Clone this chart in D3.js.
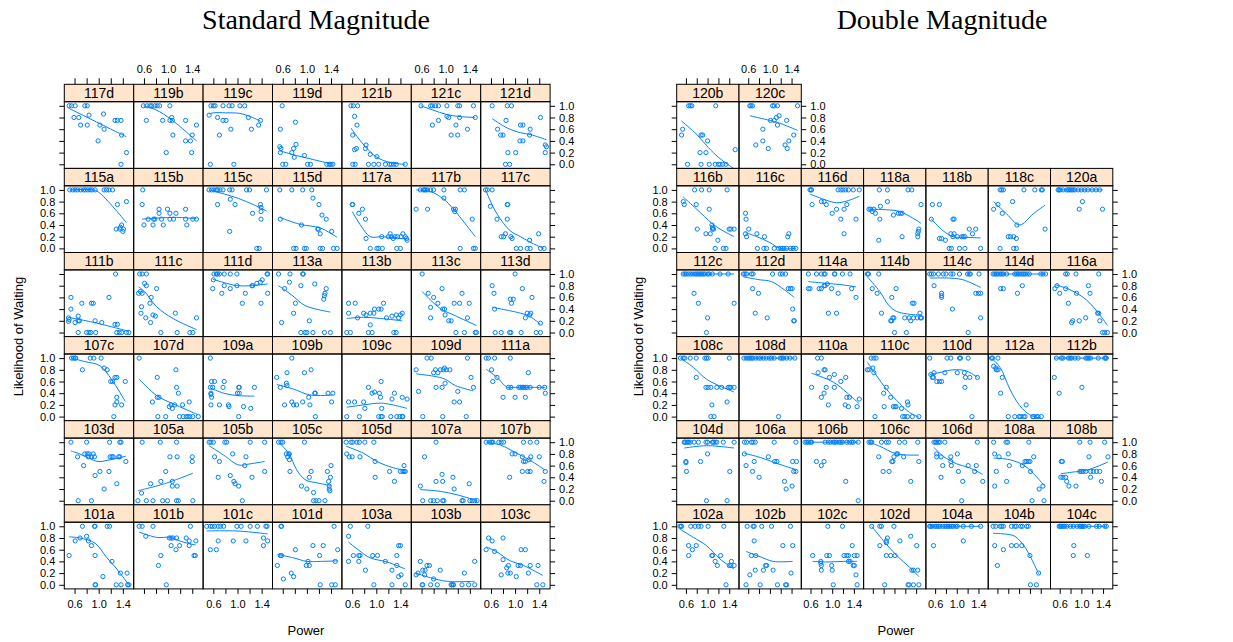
<!DOCTYPE html>
<html>
<head>
<meta charset="utf-8">
<script src="https://cdn.jsdelivr.net/npm/d3@7"></script>
<style>
  body { margin: 0; background: #fff; }
  svg { display: block; }
</style>
</head>
<body>
<script>
// ---------------- axis settings ----------------
const yTickValues = [0, 0.2, 0.4, 0.6, 0.8, 1.0];
const yTickLabels = ["0.0", "0.2", "0.4", "0.6", "0.8", "1.0"];
const xTickValues = [0.6, 0.8, 1.0, 1.2, 1.4];
const xTickLabels = ["0.6", "", "1.0", "", "1.4"];
const xDomain = [0.43, 1.58];
const yDomain = [-0.07, 1.07];

const titles = ["Standard Magnitude", "Double Magnitude"];
const xTitle = "Power";
const yTitle = "Likelihood of Waiting";

// ---------------- panel layouts (top row first) ----------------
const standardRows = [
  ["117d", "119b", "119c", "119d", "121b", "121c", "121d"],
  ["115a", "115b", "115c", "115d", "117a", "117b", "117c"],
  ["111b", "111c", "111d", "113a", "113b", "113c", "113d"],
  ["107c", "107d", "109a", "109b", "109c", "109d", "111a"],
  ["103d", "105a", "105b", "105c", "105d", "107a", "107b"],
  ["101a", "101b", "101c", "101d", "103a", "103b", "103c"]
];
const doubleRows = [
  ["120b", "120c"],
  ["116b", "116c", "116d", "118a", "118b", "118c", "120a"],
  ["112c", "112d", "114a", "114b", "114c", "114d", "116a"],
  ["108c", "108d", "110a", "110c", "110d", "112a", "112b"],
  ["104d", "106a", "106b", "106c", "106d", "108a", "108b"],
  ["102a", "102b", "102c", "102d", "104a", "104b", "104c"]
];

// ---------------- observations [power, likelihood] ----------------
// Standard magnitude
const p117d = [[0.51,1],[0.55,1],[0.61,1],[0.77,1],[0.81,1],[0.59,0.8],[0.67,0.8],[0.70,0.67],[0.81,0.67],[0.84,0.84],[1.02,0.67],[1.09,0.6],[1.08,0.86],[0.99,0.4],[1.27,0.75],[1.31,0.75],[1.37,0.75],[1.38,0.5],[1.46,0.2],[1.37,0]];
const p119b = [[0.59,1],[0.65,1],[0.70,1],[0.73,1],[0.78,1],[0.82,1],[0.86,1],[1.03,1],[0.64,0.75],[0.91,0.75],[1.03,0.75],[1.07,0.75],[1.06,0.8],[1.08,0.5],[1.29,0.75],[1.47,0.67],[1.40,0.5],[1.29,0.4],[1.37,0.4],[0.97,0.2],[1.39,0.2]];
const p119c = [[0.56,1],[0.60,1],[0.63,1],[0.76,1],[0.86,1],[0.91,1],[1.04,1],[1.12,1],[0.53,0.84],[0.67,0.8],[0.76,0.75],[0.81,0.75],[0.70,0.5],[0.89,0.6],[1.18,0.8],[1.38,0.75],[1.23,0.6],[1.35,0.67],[0.55,0],[0.94,0]];
const p119d = [[0.59,1],[0.81,0.72],[0.56,0.6],[0.55,0.3],[0.57,0.27],[0.56,0.2],[0.82,0.34],[0.78,0.27],[0.75,0.2],[0.79,0.12],[0.96,0.15],[0.60,0],[0.65,0],[1.01,0],[1.06,0],[1.33,0],[1.37,0],[1.40,0],[1.43,0]];
const p121b = [[0.58,1],[0.62,1],[0.69,1],[0.64,0.82],[0.68,0.67],[0.61,0.5],[0.67,0.27],[0.64,0.25],[0.83,0.33],[0.90,0.17],[1.01,0.13],[0.61,0],[0.65,0],[0.87,0],[0.96,0],[1.04,0],[1.15,0],[1.22,0],[1.25,0],[1.29,0],[1.33,0],[1.48,0],[0.82,0.27]];
const p121c = [[0.59,1],[0.75,1],[0.78,1],[0.83,1],[0.88,1],[1.02,1],[1.20,1],[1.23,1],[1.46,1],[1.02,0.82],[1.05,0.8],[0.88,0.75],[0.78,0.67],[1.17,0.67],[1.36,0.6],[1.23,0.8],[1.49,0.8],[1.09,0.5],[1.20,0.5]];
const p121d = [[0.62,1],[0.87,1],[0.94,1],[0.85,0.75],[1.42,0.8],[0.71,0.6],[0.76,0.5],[0.80,0.5],[1.09,0.67],[1.13,0.67],[1.25,0.6],[1.24,0.5],[1.08,0.4],[1.13,0.4],[0.88,0.2],[1.01,0.2],[0.84,0],[0.91,0],[1.50,0.33],[1.52,0.3],[1.50,0.2]];
const p115a = [[0.52,1],[0.57,1],[0.61,1],[0.65,1],[0.70,1],[0.75,1],[0.78,1],[0.82,1],[0.86,1],[0.89,1],[0.94,1],[1.09,1],[1.13,1],[1.17,1],[1.23,1],[1.31,0.75],[1.46,0.8],[1.29,0.33],[1.35,0.33],[1.38,0.4],[1.36,0.36],[1.41,0.33],[1.40,0.29]];
const p115b = [[0.58,1],[0.57,0.75],[0.60,0.4],[0.67,0.5],[0.76,0.5],[0.78,0.5],[0.75,0.4],[0.85,0.6],[0.85,0.67],[0.89,0.5],[0.92,0.4],[0.99,0.67],[1.03,0.6],[1.03,0.5],[1.09,0.5],[1.13,0.6],[1.29,0.67],[1.29,0.5],[1.31,0.4],[1.41,0.5],[1.47,0.5]];
const p115c = [[0.53,1],[0.57,1],[0.61,1],[0.65,1],[0.67,1],[0.71,1],[0.76,1],[0.87,1],[0.91,1],[1.15,1],[1.20,1],[1.48,1],[0.67,0.75],[0.88,0.84],[0.96,0.75],[0.87,0.29],[1.25,0.6],[1.38,0.75],[1.39,0.7],[1.39,0.63],[1.39,0.5],[1.32,0],[1.36,0]];
const p115d = [[0.55,1],[0.75,1],[0.93,1],[1.08,1],[1.10,0.86],[1.20,0.75],[1.25,0.57],[1.32,0.5],[0.56,0.5],[0.91,0.4],[1.18,0.33],[1.19,0.33],[1.22,0.25],[1.41,0.29],[0.78,0],[0.82,0],[0.96,0],[0.99,0],[1.22,0],[1.26,0],[1.44,0],[1.50,0]];
const p117a = [[0.60,0.75],[0.61,0.75],[0.71,0.6],[0.77,0.67],[0.82,0.5],[0.83,0.17],[0.90,0],[1.01,0],[1.04,0],[1.10,0],[1.09,0.2],[1.20,0.2],[1.23,0.25],[1.25,0.2],[1.28,0.17],[1.31,0.2],[1.35,0.2],[1.41,0.2],[1.44,0.25],[1.48,0.2],[1.50,0.17],[1.51,0.14],[1.34,0],[1.40,0]];
const p117b = [[0.58,1],[0.63,1],[0.65,1],[0.67,1],[0.70,1],[0.75,1],[0.80,1],[0.97,1],[1.24,1],[1.31,1],[0.51,0.67],[0.70,0.67],[0.97,0.86],[1.13,0.67],[1.16,0.67],[1.15,0.63],[1.24,0],[1.44,0.5],[1.46,0],[1.49,0]];
const p117c = [[0.51,1],[0.54,1],[0.62,1],[0.59,0.72],[0.70,0.5],[0.77,0.2],[0.81,0.2],[0.84,0.25],[0.87,0.75],[0.88,0.75],[0.87,0.5],[0.93,0.2],[0.95,0.17],[1.02,0],[1.09,0],[1.20,0],[1.25,0],[1.24,0.14],[1.39,0.25],[1.42,0],[1.48,0]];
const p111b = [[0.50,0.25],[0.50,0.19],[0.54,0.6],[0.54,0.4],[0.61,0.17],[0.66,0.28],[0.66,0.2],[0.68,0.2],[0.72,0.5],[0.66,0],[0.80,0],[0.84,0],[0.87,0],[0.95,0],[0.88,0.5],[0.91,0.5],[0.94,0.2],[1.05,0.17],[1.17,0.6],[1.28,1],[1.27,0.14],[1.31,0.14],[1.30,0],[1.34,0],[1.38,0],[1.46,0],[1.50,0],[0.51,0.22]];
const p111c = [[0.53,1],[0.57,1],[0.64,1],[0.61,0.84],[0.64,0.8],[0.51,0.67],[0.54,0.7],[0.57,0.67],[0.81,0.75],[0.72,0.6],[0.70,0.5],[0.56,0.44],[0.55,0.33],[0.75,0.3],[0.79,0.28],[0.71,0.17],[0.63,0.25],[0.88,0],[1.12,0.33],[1.15,0],[1.36,0],[1.41,0],[1.47,0.25]];
const p111d = [[0.61,1],[0.65,1],[0.67,1],[0.70,1],[0.78,1],[0.88,1],[0.99,1],[1.49,1],[1.50,1],[0.60,0.9],[0.59,0.75],[0.78,0.8],[0.74,0.67],[0.88,0.75],[0.99,0.8],[1.13,0.67],[1.08,0.5],[1.24,0.8],[1.25,0.8],[1.32,0.84],[1.38,0.86],[1.39,0.5],[1.50,0.67],[1.41,0.9]];
const p113a = [[0.53,1],[0.72,1],[0.93,1],[0.94,1],[0.63,0.75],[0.71,0.86],[0.90,0.8],[1.13,0.83],[1.32,0.75],[1.30,0.67],[1.29,0.63],[1.28,0.57],[0.81,0.5],[0.78,0.33],[0.58,0.17],[1.04,0.2],[0.90,0],[0.97,0],[1.00,0],[1.10,0],[1.29,0],[1.39,0]];
const p113b = [[0.54,0.5],[0.65,0.5],[0.54,0.33],[0.69,0.25],[0.79,0.33],[0.83,0.3],[0.90,0.33],[0.97,0.4],[0.96,0.33],[1.04,0.4],[1.12,0.5],[1.08,0.4],[0.90,0.13],[1.17,0.25],[1.26,0.28],[1.33,0.3],[1.37,0.25],[1.40,0.3],[1.43,0.33],[0.51,0],[0.57,0],[0.87,0],[0.93,0],[1.29,0],[1.33,0]];
const p113c = [[0.61,1],[0.71,0.67],[0.80,0.6],[0.94,0.75],[0.87,0.5],[0.75,0.43],[0.95,0.4],[0.98,0.4],[0.99,0.3],[1.05,0.2],[1.09,0.2],[1.14,0.5],[1.23,0.5],[1.27,0.67],[1.39,0.5],[1.36,0.25],[0.75,0.25],[1.17,0],[1.31,0],[1.49,0],[1.51,0]];
const p113d = [[1.00,1],[0.62,0.8],[0.65,0.67],[0.92,0.57],[0.97,0.57],[0.94,0.5],[0.66,0.4],[1.12,0.75],[1.28,0.6],[1.20,0.33],[1.26,0.33],[1.17,0.25],[1.24,0.3],[1.42,0.16],[0.67,0],[0.77,0],[0.91,0],[0.93,0],[1.10,0],[1.35,0],[1.42,0]];
const p107c = [[0.55,1],[0.58,1],[0.61,1],[0.62,1],[0.86,1],[0.92,1],[1.04,1],[0.73,0.8],[1.09,0.83],[1.14,0.8],[1.20,0.6],[1.23,0.6],[1.27,0.67],[1.30,0.67],[1.30,0.33],[1.27,0.2],[1.30,0.25],[1.25,0],[1.38,0.2],[1.44,0.6]];
const p107d = [[0.52,1],[0.82,0.67],[0.82,0.33],[0.85,0.33],[0.74,0.25],[1.13,0.8],[1.14,0.5],[1.17,0.4],[1.02,0.17],[1.05,0.2],[1.07,0.14],[1.11,0.2],[1.24,0.2],[1.35,0.25],[0.83,0],[0.96,0],[1.19,0],[1.25,0],[1.30,0],[1.33,0],[1.36,0],[1.41,0],[1.50,0]];
const p109a = [[0.55,1],[0.57,0.6],[0.55,0.5],[0.59,0.5],[0.56,0.4],[0.56,0.38],[0.57,0.33],[0.62,0.6],[0.78,0.6],[0.76,0.5],[0.56,0.2],[0.70,0.2],[0.85,0.2],[0.86,0.17],[1.02,0.5],[1.03,0.5],[1.00,0.4],[1.03,0.4],[1.10,0.17],[1.22,0.14],[1.28,0.5],[1.02,0]];
const p109b = [[0.75,1],[0.50,0.67],[0.56,0.5],[0.66,0.57],[0.67,0.53],[0.67,0.75],[0.96,0.75],[1.07,0.8],[1.03,0.33],[1.13,0.4],[1.14,0.4],[0.63,0.2],[0.75,0.25],[0.78,0.2],[0.83,0.2],[0.93,0.25],[1.05,0.2],[1.14,0],[1.35,0.4],[1.43,0.4],[1.41,0.25]];
const p109c = [[0.54,0.25],[0.64,0.25],[0.51,0],[0.72,0],[0.79,0.25],[0.81,0.14],[0.87,0.5],[0.93,0.4],[0.97,0.42],[1.05,0.4],[1.08,0.6],[1.07,0.33],[1.09,0.14],[1.04,0],[1.08,0],[1.10,0],[1.24,0],[1.26,0.3],[1.30,0.4],[1.34,0],[1.39,0],[1.43,0],[1.44,0],[1.43,0.33],[1.51,0.3]];
const p109d = [[0.51,0.8],[0.55,0.43],[0.69,1],[0.76,1],[0.62,0],[0.80,0.75],[0.83,0.8],[0.87,0.75],[0.84,0.5],[0.95,0],[0.91,0.8],[0.96,0.8],[0.98,0.83],[1.01,0.8],[0.99,0.57],[0.94,0.5],[1.07,0.8],[1.14,0.25],[1.23,0.25],[1.20,0.43],[1.34,0],[1.36,1],[1.42,0.67],[1.46,0.5]];
const p111a = [[0.52,1],[0.56,1],[0.66,1],[0.92,1],[0.61,0.8],[0.63,0.6],[0.70,0.67],[0.80,0.33],[0.89,0.5],[0.93,0.5],[1.00,0.33],[1.06,0.5],[1.09,0.5],[1.12,0.5],[1.14,0.5],[1.17,0.5],[1.20,0.5],[1.25,0.5],[1.22,0.75],[1.17,0.33],[1.40,0.5],[1.49,0.5],[1.50,0.4]];
const p103d = [[0.54,1],[0.80,1],[1.18,1],[1.35,1],[1.37,1],[0.65,0.75],[0.75,0.6],[0.77,0.8],[0.81,0.8],[0.83,0.75],[0.84,0.8],[0.88,0.75],[0.91,0.8],[0.93,0.75],[0.94,0.43],[1.02,0.5],[1.17,0.5],[1.19,0.75],[1.22,0.75],[1.24,0.75],[1.33,0.75],[1.35,0.75],[1.45,0.67],[1.09,0.2],[1.30,0.29],[0.66,0],[0.88,0]];
const p105a = [[0.57,1],[0.87,1],[1.14,1],[0.56,0.13],[0.71,0.29],[0.88,0.33],[0.96,0.5],[1.03,0.75],[1.15,0.75],[1.07,0.33],[1.07,0.25],[1.15,0.25],[1.40,0.75],[1.40,0.67],[0.50,0],[0.64,0],[0.75,0],[0.91,0],[0.99,0],[1.14,0],[1.17,0],[1.41,0]];
const p105b = [[0.53,1],[0.56,1],[0.60,1],[0.79,1],[0.82,1],[1.21,1],[1.45,1],[0.62,0.75],[0.70,0.67],[0.92,0.8],[0.68,0.4],[0.88,0.43],[0.94,0.33],[0.96,0.29],[1.02,0.25],[1.14,0.75],[1.12,0.6],[1.24,0.4],[1.45,0.5],[1.08,0]];
const p105c = [[0.53,1],[0.57,1],[0.60,1],[0.96,1],[0.66,0.8],[0.70,0.8],[0.71,0.8],[0.68,0.75],[0.71,0.7],[0.72,0.5],[0.91,0.25],[1.00,0.2],[1.07,0.5],[1.04,0.4],[1.11,0.14],[1.11,0],[1.15,0],[1.20,0],[1.30,0],[1.34,0.5],[1.36,0.33],[1.39,0.4],[1.37,0.25],[1.37,0.2],[1.40,0.6],[1.38,0.17]];
const p105d = [[0.50,1],[0.58,1],[0.61,1],[0.68,1],[0.72,1],[0.81,1],[0.96,1],[0.51,0.8],[0.55,0.75],[0.60,0.75],[0.73,0.75],[0.98,0.67],[0.98,0.4],[1.22,0.5],[1.30,0.33],[1.40,0.5],[1.44,0.5],[1.46,0.5],[1.48,0.5],[1.46,0.6]];
const p107a = [[0.84,1],[0.65,0.75],[0.94,0.45],[0.84,0.33],[0.95,0.33],[1.12,0.4],[1.14,0.2],[1.39,0.29],[0.58,0.25],[0.62,0],[0.75,0],[0.80,0],[0.86,0],[0.95,0],[0.97,0],[1.27,0],[1.29,0],[1.40,0],[1.44,0],[1.48,0],[1.52,0]];
const p107b = [[0.52,1],[0.58,1],[0.61,1],[0.63,1],[0.73,1],[0.77,1],[0.81,1],[1.14,1],[1.25,1],[1.36,1],[0.95,0.8],[1.00,0.8],[1.12,0.75],[1.26,0.75],[1.40,0.75],[1.14,0.67],[1.17,0.67],[1.23,0.7],[1.12,0.5],[1.21,0.5],[1.25,0.5],[0.91,0.4],[1.50,0.5],[1.48,0.33]];
const p101a = [[0.51,0.5],[0.61,0.75],[0.69,0.8],[0.73,1],[0.80,0.83],[0.83,0.75],[0.88,0.67],[0.93,1],[0.94,1],[0.94,0.5],[0.94,0],[0.95,0],[1.07,0.14],[1.14,1],[1.18,1],[1.22,0.4],[1.29,0],[1.37,0],[1.47,0.2],[1.36,0.2],[1.48,0],[1.50,0]];
const p101b = [[0.52,1],[0.57,1],[0.75,1],[1.37,1],[0.63,0.83],[0.88,0.5],[0.84,0.33],[0.97,0],[1.02,0.8],[1.05,0.8],[1.08,0.8],[1.14,0.8],[1.05,0.67],[1.13,0.6],[1.19,0.67],[1.30,0.8],[1.35,0.75],[1.35,0.67],[1.43,0.5],[1.45,0.5],[1.46,0.75]];
const p101c = [[0.49,1],[0.55,1],[0.58,1],[0.62,1],[0.68,1],[0.72,1],[0.77,1],[0.99,1],[1.06,1],[1.21,1],[1.33,1],[1.47,1],[1.49,1],[0.55,0.6],[0.65,0.6],[0.68,0.75],[0.93,0.75],[1.14,0.75],[1.43,0.8],[1.43,0.67],[1.50,0.75]];
const p101d = [[0.57,1],[0.58,1],[0.51,0.33],[0.56,0.5],[0.58,0.5],[0.61,0.1],[0.74,0.2],[0.78,0.14],[0.81,0.6],[0.99,0.33],[1.04,0.33],[1.02,0.4],[1.10,0.67],[1.21,0.5],[1.22,0],[1.27,0.67],[1.45,1],[1.47,0.4],[1.41,0],[1.47,0],[1.51,0.6]];
const p103a = [[0.54,0.83],[0.57,1],[0.54,0.4],[0.62,0.5],[0.71,0.5],[0.73,0.5],[0.71,0.4],[0.82,0.25],[0.86,1],[0.96,0],[0.94,0.5],[1.02,0.5],[1.15,0.4],[1.26,0.25],[1.26,0],[1.34,0.5],[1.34,0.33],[1.37,0.14],[1.37,0.67],[1.40,0.67],[1.41,0.17],[1.48,0]];
const p103b = [[0.51,0.17],[0.54,0.2],[0.58,0.4],[0.61,0],[0.62,0],[0.62,0.25],[0.66,0.25],[0.65,0.17],[0.69,0.33],[0.73,0.33],[0.75,0],[0.80,0.1],[0.86,0],[0.91,0.25],[1.09,0],[1.10,0],[1.12,0],[1.13,0],[1.27,0],[1.31,0.2],[1.38,0],[1.48,0],[1.48,0.4]];
const p103c = [[0.52,0.6],[0.56,0.8],[0.62,0.75],[0.66,0.57],[0.80,0.8],[0.80,0.43],[0.77,0.17],[0.86,0.29],[0.89,0.33],[0.88,0.2],[0.92,0.2],[1.02,0.14],[1.05,0.33],[1.09,0.33],[1.10,0.6],[1.17,0.6],[1.22,0.2],[1.25,0.33],[1.38,0.33],[1.36,0],[1.46,0]];

// Double magnitude
const p120b = [[0.65,1],[0.68,1],[0.71,1],[1.15,1],[0.54,0.6],[0.52,0.5],[0.88,0.5],[0.91,0.5],[1.00,0.4],[0.86,0.2],[0.97,0.2],[0.63,0],[0.88,0],[1.03,0],[1.14,0],[1.20,0],[1.23,0],[1.28,0],[1.34,0],[1.51,0.25]];
const p120c = [[0.63,1],[0.65,1],[0.68,1],[1.05,1],[1.08,1],[1.14,1],[1.51,1],[1.01,0.75],[1.08,0.75],[1.12,0.8],[1.17,0.83],[1.14,0.67],[1.31,0.75],[0.87,0.6],[0.87,0.4],[0.74,0.33],[0.97,0.27],[1.28,0.33],[1.32,0.27],[1.35,0.4],[1.44,0.5]];
const p116b = [[0.55,0.8],[0.57,0.75],[0.76,1],[0.89,1],[1.03,1],[0.79,0.75],[0.81,0.33],[0.97,0.25],[1.05,0.25],[1.03,0.67],[1.08,0.4],[1.09,0.36],[1.11,0.33],[1.09,0.33],[1.14,0],[1.19,0.14],[1.29,0],[1.34,0],[1.36,1],[1.40,0.33],[1.43,0.33],[1.49,0.33]];
const p116c = [[0.55,0.6],[0.56,0.5],[0.55,0.25],[0.57,0.2],[0.61,0.33],[0.76,0.25],[0.77,0],[0.90,0.2],[0.89,0],[0.94,0],[1.08,0],[1.16,0],[1.20,0],[1.23,0],[1.26,0],[1.31,0],[1.33,0.2],[1.35,0.25],[1.38,0],[1.43,0],[1.48,0]];
const p116d = [[0.59,1],[0.61,1],[0.62,1],[1.11,1],[1.16,1],[1.20,1],[1.25,1],[1.30,1],[1.39,1],[1.50,1],[0.63,0.75],[0.80,0.8],[0.85,0.8],[0.89,0.75],[1.00,0.6],[1.08,0.67],[1.16,0.5],[1.22,0.25],[1.22,0.67],[1.27,0.75],[1.44,0.5]];
const p118a = [[0.53,0.67],[0.56,0.67],[0.59,0.63],[0.62,0.67],[0.65,0.6],[0.72,1],[0.87,1],[0.73,0.5],[0.74,0.72],[0.87,0.8],[0.71,0.14],[0.98,0.57],[1.07,0.6],[1.11,0.6],[1.14,0.6],[1.14,0.2],[1.25,1],[1.32,1],[1.44,0.29],[1.43,0.25],[1.43,0.2],[1.45,0.33],[1.49,0.75]];
const p118b = [[0.55,0.75],[0.68,0.75],[0.53,0.5],[0.68,0.17],[0.72,0.17],[0.79,0.14],[0.86,0],[0.90,0],[0.89,0.25],[0.93,0.5],[0.95,0.5],[0.93,0.2],[0.95,0.25],[1.05,0],[1.15,0],[1.01,0.2],[1.09,0.2],[1.12,0.2],[1.15,0.2],[1.23,0.33],[1.29,0.25],[1.35,0.33],[1.44,0]];
const p118c = [[0.53,0.67],[0.61,0.75],[0.65,1],[0.68,1],[0.71,1],[0.69,0.6],[0.65,0],[0.80,0.2],[0.84,0.2],[0.90,0.2],[0.88,0.8],[0.90,0],[0.95,0],[0.95,0.17],[0.96,0.4],[1.09,1],[1.29,1],[1.41,1],[1.43,1],[1.48,0.33]];
const p120a = [[0.57,1],[0.59,1],[0.61,1],[0.66,1],[0.73,1],[0.76,1],[0.79,1],[0.82,1],[0.85,1],[0.88,1],[0.94,1],[1.00,1],[1.06,1],[1.12,1],[1.20,1],[1.27,1],[1.34,1],[1.02,0.8],[0.96,0.67],[1.39,0.67]];
const p112c = [[0.55,1],[0.58,1],[0.61,1],[0.65,1],[0.69,1],[0.73,1],[0.77,1],[0.80,1],[0.83,1],[0.86,1],[0.89,1],[0.92,1],[0.95,1],[1.00,1],[1.03,1],[1.09,1],[1.23,1],[1.38,1],[0.75,0.67],[0.83,0.5],[1.00,0.25],[0.98,0],[1.49,0.5]];
const p112d = [[0.51,1],[0.54,1],[0.57,1],[0.66,1],[0.69,1],[1.05,1],[1.19,1],[1.23,1],[1.29,1],[0.68,0.75],[0.79,0.67],[0.73,0.33],[0.95,0.25],[1.34,0.75],[1.38,0.75],[1.41,0.75],[1.42,0.4],[1.44,0.2],[1.45,0.2]];
const p114a = [[0.56,1],[0.71,1],[0.80,1],[0.85,1],[0.87,1],[1.04,1],[1.05,1],[1.19,1],[1.33,1],[0.56,0.75],[0.59,0.75],[0.76,0.75],[0.80,0.75],[0.85,0.8],[0.87,0.8],[0.91,0.83],[0.93,0.33],[0.99,0.75],[1.08,0.33],[1.11,0.67],[1.36,0.75],[1.44,0.6]];
const p114b = [[0.50,1],[0.52,1],[0.71,1],[0.59,0.75],[0.68,0.67],[0.76,0.33],[0.95,0.6],[1.03,0.75],[0.93,0.2],[0.95,0.2],[0.97,0.25],[0.99,0.25],[1.00,0],[1.22,0],[1.19,0.25],[1.27,0.25],[1.30,0.2],[1.35,0.25],[1.33,0.5],[1.36,0.5],[1.42,0.25],[1.48,0.25],[1.47,0.33],[1.50,0.25]];
const p114c = [[0.50,1],[0.53,1],[0.57,1],[0.66,1],[0.75,1],[0.80,1],[0.89,1],[0.93,1],[1.05,1],[1.20,1],[1.23,1],[1.25,1],[1.41,1],[0.58,0.8],[0.72,0.67],[0.72,0.63],[0.72,0.6],[0.92,0.4],[1.21,0],[1.35,0.67],[1.40,0.67],[1.44,0.67],[1.44,0.25]];
const p114d = [[0.52,1],[0.55,1],[0.58,1],[0.61,1],[0.65,1],[0.68,1],[0.71,1],[0.77,1],[0.92,1],[0.95,1],[0.98,1],[1.01,1],[1.05,1],[1.08,1],[1.11,1],[1.15,1],[1.19,1],[1.40,1],[1.44,1],[1.49,1],[0.66,0.75],[0.71,0.75],[1.06,0.8],[0.97,0.67]];
const p116a = [[0.51,0.75],[0.55,0.8],[0.60,0.67],[0.71,1],[0.74,1],[0.90,1],[0.71,0.75],[0.76,0.5],[0.82,0.17],[0.84,0.2],[0.91,0.67],[0.96,0.2],[1.08,0.25],[1.13,0.8],[1.16,0.67],[1.32,1],[1.30,0.33],[1.32,0.33],[1.34,0.2],[1.39,0],[1.43,0],[1.48,0]];
const p108c = [[0.50,1],[0.55,1],[0.58,1],[0.68,1],[0.79,1],[0.95,1],[0.98,1],[1.01,1],[1.40,1],[0.79,0.67],[0.97,0.5],[1.01,0.5],[1.06,0.5],[1.08,0.2],[1.06,0],[1.12,0],[1.17,0.5],[1.26,0.5],[1.36,0.25],[1.38,0.5],[1.41,0.5],[1.43,0.5],[1.49,0.5]];
const p108d = [[0.52,1],[0.56,1],[0.60,1],[0.63,1],[0.66,1],[0.69,1],[0.74,1],[0.79,1],[0.83,1],[0.88,1],[0.93,1],[0.99,1],[1.03,1],[1.08,1],[1.19,1],[1.22,1],[1.25,1],[1.31,1],[1.37,1],[1.46,1],[1.16,0]];
const p110a = [[0.62,0.5],[0.73,1],[0.80,1],[0.74,0.75],[0.85,0.8],[0.87,0.8],[0.80,0.33],[0.85,0.4],[0.89,0.5],[0.93,0.2],[0.95,0.67],[1.04,0.72],[1.04,0.5],[1.16,0.6],[1.25,0.67],[1.24,0.2],[1.27,0.33],[1.32,0.33],[1.30,0.17],[1.46,0.17],[1.50,0.3]];
const p110c = [[0.50,0.8],[0.53,0.8],[0.57,1],[0.62,1],[0.66,1],[0.60,0.83],[0.62,0.75],[0.64,0],[0.80,0.4],[0.85,0.5],[0.81,0.17],[0.93,0.33],[0.98,0.17],[1.01,0.17],[1.03,0.17],[1.13,0.14],[1.15,0],[1.19,0],[1.24,0.25],[1.25,0.2],[1.24,0],[1.33,0],[1.45,0]];
const p110d = [[0.50,1],[0.52,0.72],[0.55,0.67],[0.57,0.67],[0.58,0.75],[0.63,0.6],[0.68,0.6],[0.72,0.6],[0.82,1],[0.89,1],[1.05,1],[1.07,1],[1.21,1],[0.78,0.75],[1.01,0.75],[1.14,0.75],[1.16,0.67],[1.15,0.5],[1.24,0.67],[1.28,0],[1.38,0.67]];
const p112a = [[0.49,1],[0.51,1],[0.53,0.86],[0.57,0.83],[0.61,1],[0.58,0.8],[0.61,0.8],[0.69,0.67],[0.66,0.4],[0.80,0],[0.92,0],[1.00,0],[1.03,0],[1.08,0],[1.11,0],[1.13,0.2],[1.25,0],[1.27,0],[1.32,0],[1.35,0],[1.41,0]];
const p112b = [[0.54,1],[0.63,1],[0.66,1],[0.76,1],[0.79,1],[0.82,1],[0.88,1],[0.94,1],[1.08,1],[1.11,1],[1.14,1],[1.17,1],[1.31,1],[1.43,1],[1.45,1],[1.46,1],[0.50,0.67],[0.59,0.4],[1.01,0.5]];
const p104d = [[0.57,1],[0.58,1],[0.60,1],[0.63,1],[0.65,1],[0.68,1],[0.75,1],[0.83,1],[0.97,1],[1.00,1],[1.09,1],[1.11,1],[1.14,1],[1.17,1],[1.29,1],[1.49,1],[0.60,0.67],[0.60,0.65],[0.61,0.5],[0.87,0.67],[1.00,0.8],[0.98,0],[1.36,0],[1.41,0.5]];
const p106a = [[0.53,1],[0.57,1],[0.66,1],[0.69,1],[0.73,1],[1.08,1],[1.48,1],[0.53,0.8],[0.56,0.6],[0.68,0.5],[0.71,0.67],[0.80,0.4],[0.97,0.75],[1.09,0.67],[1.13,0.67],[1.27,0.33],[1.30,0.2],[1.41,0.25],[1.42,0.67],[1.49,0.67],[1.44,0.5],[1.48,0.5]];
const p106b = [[0.50,1],[0.53,1],[0.56,1],[0.60,1],[0.62,1],[0.87,1],[0.93,1],[0.97,1],[1.02,1],[1.05,1],[1.08,1],[1.13,1],[1.16,1],[1.19,1],[1.27,1],[1.32,1],[1.36,1],[1.39,1],[1.48,1],[0.71,0.67],[0.80,0.6],[0.85,0.67],[1.25,0.33],[1.48,0]];
const p106c = [[0.53,1],[0.56,1],[0.58,1],[0.76,1],[0.85,1],[0.89,1],[1.09,1],[1.19,1],[1.43,1],[0.71,0.75],[0.79,0.5],[0.90,0.5],[0.95,0.67],[0.97,0.67],[0.99,0.75],[1.04,0.8],[1.06,0.8],[1.17,0.75],[1.30,0.33],[1.45,0.67]];
const p106d = [[0.58,1],[0.61,1],[0.63,1],[0.66,1],[0.69,1],[0.78,1],[1.38,1],[0.63,0.8],[0.63,0.75],[0.71,0.75],[0.74,0.6],[0.71,0.4],[0.89,0.75],[0.89,0.67],[0.90,0.6],[1.01,0.8],[1.03,0.5],[1.11,0.33],[1.09,0],[1.21,0.6],[1.36,0.6],[1.33,0.5],[1.48,0.33]];
const p108a = [[0.53,1],[0.76,1],[0.79,1],[1.18,1],[0.55,0.8],[0.63,0.75],[0.58,0.5],[0.55,0.25],[0.80,0.8],[0.82,0.6],[0.77,0.33],[1.06,0.6],[1.11,0.67],[1.14,0.67],[1.17,0.67],[1.20,0.67],[1.27,0.75],[1.21,0.5],[1.24,0],[1.37,0.2],[1.44,0.25],[1.46,0]];
const p108b = [[0.63,0.67],[0.65,0.67],[0.62,0.4],[0.66,0.4],[0.71,0.4],[0.73,0.33],[0.77,0.25],[0.97,1],[1.16,1],[1.43,1],[0.90,0.25],[0.97,0.5],[1.00,0.5],[1.03,0.5],[1.08,0.5],[1.17,0.5],[1.22,0.5],[1.28,0.5],[1.34,0.5],[1.14,0.75],[1.17,0.4],[1.37,0.33],[1.49,0.75]];
const p102a = [[0.49,1],[0.51,1],[0.52,1],[0.65,0.67],[0.65,0.5],[0.69,1],[0.77,1],[0.83,1],[0.88,1],[0.72,0.6],[0.79,0.67],[1.01,1],[1.08,0.5],[1.09,0.5],[1.14,0.4],[1.18,0.33],[1.24,0.5],[1.30,1],[1.34,0],[1.40,0.33],[1.43,0.33],[1.44,0.4],[1.49,0.33]];
const p102b = [[0.56,0],[0.63,0.17],[0.58,1],[0.66,0.5],[0.74,0.5],[0.69,1],[0.71,1],[0.71,0.75],[0.73,0.25],[0.82,0],[0.85,1],[0.88,0.25],[0.92,0.33],[0.94,0.33],[1.03,1],[1.06,0.25],[1.14,0],[1.24,0.67],[1.29,0],[1.31,0],[1.38,1],[1.39,0.2],[1.42,0.67]];
const p102c = [[0.64,0.5],[0.79,0.4],[0.79,0.37],[0.80,0.33],[0.80,0.25],[0.90,0.5],[0.95,0.5],[0.92,1],[0.99,0.33],[1.00,0.25],[1.02,0],[1.19,1],[1.22,0.5],[1.27,0.5],[1.30,0.5],[1.30,0.4],[1.33,0.4],[1.37,0.67],[1.39,0.33],[1.41,0.33],[1.41,0.5],[1.46,0.5],[1.44,0.17],[1.46,0]];
const p102d = [[0.58,1],[0.73,1],[0.76,1],[0.73,0.67],[0.82,0],[0.85,0.75],[0.87,0.8],[0.85,0.72],[0.85,0.5],[0.93,0.5],[0.99,1],[1.01,0.5],[1.10,0.75],[1.25,0],[1.27,0],[1.35,0],[1.45,0],[1.30,0.83],[1.32,0.25],[1.35,0.25],[1.41,0.67],[1.43,0.25]];
const p104a = [[0.50,1],[0.52,1],[0.55,1],[0.60,1],[0.63,1],[0.66,1],[0.69,1],[0.74,1],[0.78,1],[0.81,1],[0.84,1],[0.87,1],[0.90,1],[0.93,1],[0.98,1],[1.01,1],[1.12,1],[1.27,1],[1.44,1],[0.57,0.67],[1.12,0.75]];
const p104b = [[0.52,1],[0.57,1],[0.65,1],[0.68,1],[0.71,1],[0.86,1],[0.92,1],[0.95,1],[1.03,1],[1.06,1],[1.14,1],[1.17,1],[0.55,0.67],[0.60,0.33],[0.71,0.6],[0.86,0.67],[0.95,0.67],[1.05,0.67],[1.20,0.5],[1.21,0],[1.32,0],[1.36,0.2]];
const p104c = [[0.59,1],[0.61,1],[0.63,1],[0.66,1],[0.69,1],[0.73,1],[0.80,1],[0.85,1],[0.92,1],[0.97,1],[0.99,1],[1.01,1],[1.03,1],[1.06,1],[1.14,1],[1.28,1],[1.33,1],[1.43,1],[1.46,1],[0.86,0.67],[0.85,0.5],[1.11,0.5]];

// ---------------- smoothed trend per subject [power, likelihood] ----------------
const s117d = [[0.50,0.96],[0.97,0.72],[1.46,0.47]];
const s119b = [[0.59,1.0],[0.80,0.93],[1.06,0.76],[1.47,0.40]];
const s119c = [[0.53,0.86],[0.60,0.88],[0.80,0.88],[1.04,0.87],[1.20,0.82],[1.38,0.74]];
const s119d = [[0.55,0.23],[0.83,0.15],[1.11,0.08],[1.43,0.0]];
const s121b = [[0.58,0.62],[0.70,0.45],[0.82,0.30],[1.01,0.12],[1.23,0.03],[1.48,0.0]];
const s121c = [[0.59,1.0],[0.78,0.93],[1.02,0.85],[1.20,0.82],[1.49,0.80]];
const s121d = [[0.62,0.78],[0.87,0.62],[1.09,0.54],[1.25,0.51],[1.52,0.42]];
const s115a = [[0.52,1.0],[0.90,1.0],[1.0,0.96],[1.46,0.44]];
const s115b = [[0.57,0.50],[0.85,0.52],[1.14,0.53],[1.47,0.51]];
const s115c = [[0.53,1.0],[0.88,0.90],[1.15,0.80],[1.48,0.64]];
const s115d = [[0.55,0.53],[0.89,0.41],[1.22,0.35],[1.50,0.19]];
const s117a = [[0.60,0.63],[0.75,0.38],[0.90,0.20],[1.10,0.20],[1.30,0.18],[1.51,0.16]];
const s117b = [[0.51,1.0],[0.75,0.97],[0.97,0.84],[1.13,0.67],[1.49,0.20]];
const s117c = [[0.51,1.0],[0.70,0.59],[0.92,0.30],[1.09,0.20],[1.30,0.08],[1.48,0.0]];
const s111b = [[0.50,0.26],[0.97,0.16],[1.50,0.02]];
const s111c = [[0.51,0.78],[0.61,0.70],[0.81,0.44],[1.08,0.24],[1.47,0.05]];
const s111d = [[0.59,0.91],[0.82,0.84],[0.99,0.80],[1.21,0.80],[1.50,0.83]];
const s113a = [[0.53,0.80],[0.75,0.64],[0.97,0.46],[1.39,0.35]];
const s113b = [[0.51,0.24],[0.79,0.26],[1.07,0.24],[1.43,0.20]];
const s113c = [[0.61,0.70],[0.91,0.41],[1.13,0.30],[1.51,0.12]];
const s113d = [[0.62,0.43],[1.09,0.33],[1.25,0.27],[1.42,0.14]];
const s107c = [[0.55,1.0],[0.77,0.94],[1.02,0.87],[1.21,0.64],[1.44,0.26]];
const s107d = [[0.52,0.64],[0.81,0.36],[1.08,0.22],[1.30,0.12],[1.50,0.03]];
const s109a = [[0.55,0.49],[0.77,0.40],[0.99,0.36],[1.28,0.35]];
const s109b = [[0.50,0.55],[0.78,0.47],[1.05,0.37],[1.43,0.37]];
const s109c = [[0.51,0.16],[0.79,0.20],[1.09,0.23],[1.51,0.14]];
const s109d = [[0.51,0.73],[0.80,0.69],[0.99,0.64],[1.16,0.53],[1.46,0.44]];
const s111a = [[0.52,0.81],[0.70,0.67],[0.87,0.50],[0.98,0.50],[1.50,0.50]];
const s103d = [[0.54,0.85],[0.66,0.81],[0.83,0.73],[0.99,0.67],[1.19,0.70],[1.45,0.76]];
const s105a = [[0.50,0.17],[0.97,0.30],[1.41,0.47]];
const s105b = [[0.53,0.94],[0.77,0.78],[1.02,0.61],[1.21,0.63],[1.45,0.67]];
const s105c = [[0.53,1.0],[0.70,0.81],[0.83,0.53],[0.97,0.36],[1.19,0.30],[1.40,0.26]];
const s105d = [[0.50,0.93],[0.79,0.81],[1.01,0.67],[1.29,0.56],[1.48,0.52]];
const s107a = [[0.58,0.19],[0.91,0.16],[1.19,0.10],[1.52,0.0]];
const s107b = [[0.52,1.0],[0.76,0.95],[1.03,0.81],[1.25,0.69],[1.50,0.52]];
const s101a = [[0.51,0.82],[0.69,0.80],[0.94,0.71],[1.13,0.47],[1.30,0.27],[1.50,0.0]];
const s101b = [[0.52,0.90],[0.81,0.81],[1.03,0.81],[1.25,0.73],[1.46,0.68]];
const s101c = [[0.49,0.92],[0.99,0.92],[1.50,0.87]];
const s101d = [[0.51,0.52],[0.78,0.46],[1.0,0.40],[1.22,0.40],[1.51,0.41]];
const s103a = [[0.54,0.73],[0.71,0.59],[0.90,0.46],[1.18,0.39],[1.48,0.27]];
const s103b = [[0.51,0.20],[0.75,0.12],[1.02,0.06],[1.48,0.06]];
const s103c = [[0.52,0.65],[0.70,0.56],[0.92,0.41],[1.14,0.33],[1.46,0.16]];
const s120b = [[0.52,0.74],[0.80,0.51],[1.01,0.29],[1.20,0.12],[1.34,0.02],[1.51,-0.09]];
const s120c = [[0.63,0.83],[1.00,0.75],[1.16,0.71],[1.51,0.58]];
const s116b = [[0.55,0.88],[0.80,0.67],[1.08,0.43],[1.23,0.33],[1.49,0.20]];
const s116c = [[0.55,0.27],[0.76,0.20],[1.00,0.10],[1.19,0.0],[1.48,0.0]];
const s116d = [[0.59,0.93],[0.84,0.84],[1.08,0.78],[1.27,0.81],[1.50,0.89]];
const s118a = [[0.53,0.67],[0.85,0.66],[1.10,0.63],[1.49,0.43]];
const s118b = [[0.53,0.50],[0.75,0.30],[0.93,0.20],[1.12,0.19],[1.44,0.18]];
const s118c = [[0.53,0.80],[0.77,0.59],[1.01,0.40],[1.26,0.59],[1.48,0.74]];
const s120a = [[0.57,1],[1.39,1]];
const s112c = [[0.55,1],[1.49,1]];
const s112d = [[0.51,0.95],[0.82,0.90],[1.03,0.87],[1.45,0.60]];
const s114a = [[0.56,0.87],[0.90,0.84],[1.14,0.82],[1.44,0.78]];
const s114b = [[0.50,0.95],[0.73,0.70],[0.89,0.47],[1.04,0.36],[1.29,0.31],[1.50,0.30]];
const s114c = [[0.50,0.93],[0.87,0.93],[1.12,0.90],[1.44,0.77]];
const s114d = [[0.52,1],[1.49,1]];
const s116a = [[0.51,0.82],[0.79,0.73],[1.09,0.56],[1.34,0.30],[1.48,0.12]];
const s108c = [[0.50,1.0],[0.74,0.84],[0.98,0.64],[1.23,0.52],[1.49,0.42]];
const s108d = [[0.52,1],[1.46,1]];
const s110a = [[0.62,0.74],[1.02,0.59],[1.27,0.41],[1.50,0.22]];
const s110c = [[0.50,0.93],[0.67,0.70],[0.85,0.47],[1.10,0.22],[1.28,0.07],[1.45,-0.01]];
const s110d = [[0.50,0.72],[0.72,0.76],[0.93,0.80],[1.18,0.78],[1.38,0.67]];
const s112a = [[0.49,1.0],[0.65,0.84],[0.83,0.47],[1.01,0.19],[1.20,0.03],[1.41,-0.03]];
const s112b = [[0.50,1],[1.46,1]];
const s104d = [[0.57,0.90],[0.98,0.94],[1.49,0.90]];
const s106a = [[0.53,0.81],[0.82,0.74],[1.12,0.64],[1.49,0.53]];
const s106b = [[0.50,1],[1.48,1]];
const s106c = [[0.53,1.0],[0.73,0.93],[1.04,0.80],[1.45,0.78]];
const s106d = [[0.58,0.91],[0.75,0.76],[1.00,0.63],[1.24,0.56],[1.48,0.45]];
const s108a = [[0.53,0.73],[0.83,0.70],[1.08,0.61],[1.26,0.47],[1.46,0.26]];
const s108b = [[0.62,0.46],[0.85,0.49],[1.09,0.52],[1.49,0.66]];
const s102a = [[0.49,0.95],[0.74,0.81],[0.98,0.67],[1.23,0.44],[1.49,0.27]];
const s102b = [[0.56,0.57],[0.82,0.48],[1.06,0.40],[1.42,0.40]];
const s102c = [[0.64,0.40],[0.90,0.39],[1.21,0.40],[1.46,0.40]];
const s102d = [[0.58,1.0],[0.79,0.76],[1.04,0.50],[1.28,0.30],[1.45,0.14]];
const s104a = [[0.50,1],[1.44,1]];
const s104b = [[0.52,0.88],[0.71,0.87],[0.92,0.83],[1.11,0.64],[1.36,0.19]];
const s104c = [[0.59,1],[1.46,1]];

// lookup tables by subject label: [observations, smoothed trend]
const panelData = new Map([
  ["117d", [p117d, s117d]], ["119b", [p119b, s119b]], ["119c", [p119c, s119c]], ["119d", [p119d, s119d]],
  ["121b", [p121b, s121b]], ["121c", [p121c, s121c]], ["121d", [p121d, s121d]],
  ["115a", [p115a, s115a]], ["115b", [p115b, s115b]], ["115c", [p115c, s115c]], ["115d", [p115d, s115d]],
  ["117a", [p117a, s117a]], ["117b", [p117b, s117b]], ["117c", [p117c, s117c]],
  ["111b", [p111b, s111b]], ["111c", [p111c, s111c]], ["111d", [p111d, s111d]], ["113a", [p113a, s113a]],
  ["113b", [p113b, s113b]], ["113c", [p113c, s113c]], ["113d", [p113d, s113d]],
  ["107c", [p107c, s107c]], ["107d", [p107d, s107d]], ["109a", [p109a, s109a]], ["109b", [p109b, s109b]],
  ["109c", [p109c, s109c]], ["109d", [p109d, s109d]], ["111a", [p111a, s111a]],
  ["103d", [p103d, s103d]], ["105a", [p105a, s105a]], ["105b", [p105b, s105b]], ["105c", [p105c, s105c]],
  ["105d", [p105d, s105d]], ["107a", [p107a, s107a]], ["107b", [p107b, s107b]],
  ["101a", [p101a, s101a]], ["101b", [p101b, s101b]], ["101c", [p101c, s101c]], ["101d", [p101d, s101d]],
  ["103a", [p103a, s103a]], ["103b", [p103b, s103b]], ["103c", [p103c, s103c]],
  ["120b", [p120b, s120b]], ["120c", [p120c, s120c]],
  ["116b", [p116b, s116b]], ["116c", [p116c, s116c]], ["116d", [p116d, s116d]], ["118a", [p118a, s118a]],
  ["118b", [p118b, s118b]], ["118c", [p118c, s118c]], ["120a", [p120a, s120a]],
  ["112c", [p112c, s112c]], ["112d", [p112d, s112d]], ["114a", [p114a, s114a]], ["114b", [p114b, s114b]],
  ["114c", [p114c, s114c]], ["114d", [p114d, s114d]], ["116a", [p116a, s116a]],
  ["108c", [p108c, s108c]], ["108d", [p108d, s108d]], ["110a", [p110a, s110a]], ["110c", [p110c, s110c]],
  ["110d", [p110d, s110d]], ["112a", [p112a, s112a]], ["112b", [p112b, s112b]],
  ["104d", [p104d, s104d]], ["106a", [p106a, s106a]], ["106b", [p106b, s106b]], ["106c", [p106c, s106c]],
  ["106d", [p106d, s106d]], ["108a", [p108a, s108a]], ["108b", [p108b, s108b]],
  ["102a", [p102a, s102a]], ["102b", [p102b, s102b]], ["102c", [p102c, s102c]], ["102d", [p102d, s102d]],
  ["104a", [p104a, s104a]], ["104b", [p104b, s104b]], ["104c", [p104c, s104c]]
]);

// ---------------- drawing ----------------
const W = 1233, H = 642;
const BLUE = "#0080ff";
const STRIP = "#ffe5cc";
const SANS = "'Liberation Sans', Arial, Helvetica, sans-serif";
const SERIF = "'Liberation Serif', 'Times New Roman', serif";

const svg = d3.select("body").append("svg")
  .attr("width", W).attr("height", H)
  .attr("viewBox", `0 0 ${W} ${H}`);

let clipCount = 0;

function styleAxis(g) {
  g.attr("font-family", SANS).attr("font-size", 11);
  g.select(".domain").remove();
  g.selectAll(".tick line").attr("stroke", "#000").attr("stroke-width", 1);
  g.selectAll(".tick text").attr("fill", "#000");
}

function drawLattice(rows, geo) {
  const root = svg.append("g");
  const nRows = rows.length;
  rows.forEach((row, r) => {
    row.forEach((name, c) => {
      const [pts, trend] = panelData.get(name);
      const px = geo.left + c * geo.colW;
      const py = geo.top + r * geo.rowH;
      const x = d3.scaleLinear().domain(xDomain).range([px, px + geo.colW]);
      const y = d3.scaleLinear().domain(yDomain).range([py + geo.rowH, py + geo.stripH]);
      const g = root.append("g");

      // strip
      g.append("rect")
        .attr("x", px).attr("y", py).attr("width", geo.colW).attr("height", geo.stripH)
        .attr("fill", STRIP).attr("stroke", "#000").attr("stroke-width", 1);
      g.append("text")
        .attr("x", px + geo.colW / 2).attr("y", py + geo.stripH / 2 + 5)
        .attr("text-anchor", "middle").attr("font-family", SANS).attr("font-size", 14)
        .attr("fill", "#000").text(name);

      // clipping region for the plotting area
      const id = "clip" + (clipCount++);
      g.append("clipPath").attr("id", id).append("rect")
        .attr("x", px).attr("y", py + geo.stripH)
        .attr("width", geo.colW).attr("height", geo.rowH - geo.stripH);
      const inner = g.append("g").attr("clip-path", `url(#${id})`);

      // smoothed trend
      inner.append("path")
        .attr("d", d3.line().curve(d3.curveCatmullRom.alpha(0.5))
          .x(d => x(d[0])).y(d => y(d[1]))(trend))
        .attr("fill", "none").attr("stroke", BLUE).attr("stroke-width", 1);

      // observations
      inner.selectAll("circle").data(pts).join("circle")
        .attr("cx", d => x(d[0])).attr("cy", d => y(d[1])).attr("r", 2.1)
        .attr("fill", "none").attr("stroke", BLUE).attr("stroke-width", 1);

      // panel border
      g.append("rect")
        .attr("x", px).attr("y", py + geo.stripH)
        .attr("width", geo.colW).attr("height", geo.rowH - geo.stripH)
        .attr("fill", "none").attr("stroke", "#000").attr("stroke-width", 1);

      // y axis: left on first column, right on last panel of the row
      if (c === 0) {
        const labelled = r % 2 === 1;
        const ax = d3.axisLeft(y).tickValues(yTickValues).tickSize(5).tickPadding(4)
          .tickFormat((d, i) => (labelled ? yTickLabels[i] : ""));
        root.append("g").attr("transform", `translate(${px},0)`).call(ax).call(styleAxis);
      }
      if (c === row.length - 1) {
        const labelled = r % 2 === 0;
        const ax = d3.axisRight(y).tickValues(yTickValues).tickSize(5).tickPadding(4)
          .tickFormat((d, i) => (labelled ? yTickLabels[i] : ""));
        root.append("g").attr("transform", `translate(${px + geo.colW},0)`).call(ax).call(styleAxis);
      }
      // x axis: top on first row, bottom on last row
      if (r === 0) {
        const labelled = c % 2 === 1;
        const ax = d3.axisTop(x).tickValues(xTickValues).tickSize(6).tickPadding(5)
          .tickFormat((d, i) => (labelled ? xTickLabels[i] : ""));
        root.append("g").attr("transform", `translate(0,${py})`).call(ax).call(styleAxis);
      }
      if (r === nRows - 1) {
        const labelled = c % 2 === 0;
        const ax = d3.axisBottom(x).tickValues(xTickValues).tickSize(5).tickPadding(6)
          .tickFormat((d, i) => (labelled ? xTickLabels[i] : ""));
        root.append("g").attr("transform", `translate(0,${py + geo.rowH})`).call(ax).call(styleAxis);
      }
    });
  });
}

const rowH = 84.1, stripH = 17.4, latticeTop = 84.3;
drawLattice(standardRows, { left: 64.3, colW: 69.4, top: latticeTop, rowH, stripH });
drawLattice(doubleRows, { left: 676.7, colW: 62.3, top: latticeTop, rowH, stripH });

// titles
svg.append("text").attr("x", 316).attr("y", 29).attr("text-anchor", "middle")
  .attr("font-family", SERIF).attr("font-size", 28).attr("fill", "#000").text(titles[0]);
svg.append("text").attr("x", 942).attr("y", 29).attr("text-anchor", "middle")
  .attr("font-family", SERIF).attr("font-size", 28).attr("fill", "#000").text(titles[1]);

// axis titles
const midY = latticeTop + 3 * rowH;
[[306, 23], [896, 643]].forEach(([xc, yx]) => {
  svg.append("text").attr("x", xc).attr("y", 635).attr("text-anchor", "middle")
    .attr("font-family", SANS).attr("font-size", 13).attr("fill", "#000").text(xTitle);
  svg.append("text").attr("transform", `translate(${yx},${midY}) rotate(-90)`)
    .attr("text-anchor", "middle").attr("font-family", SANS).attr("font-size", 13)
    .attr("fill", "#000").text(yTitle);
});
</script>
</body>
</html>
